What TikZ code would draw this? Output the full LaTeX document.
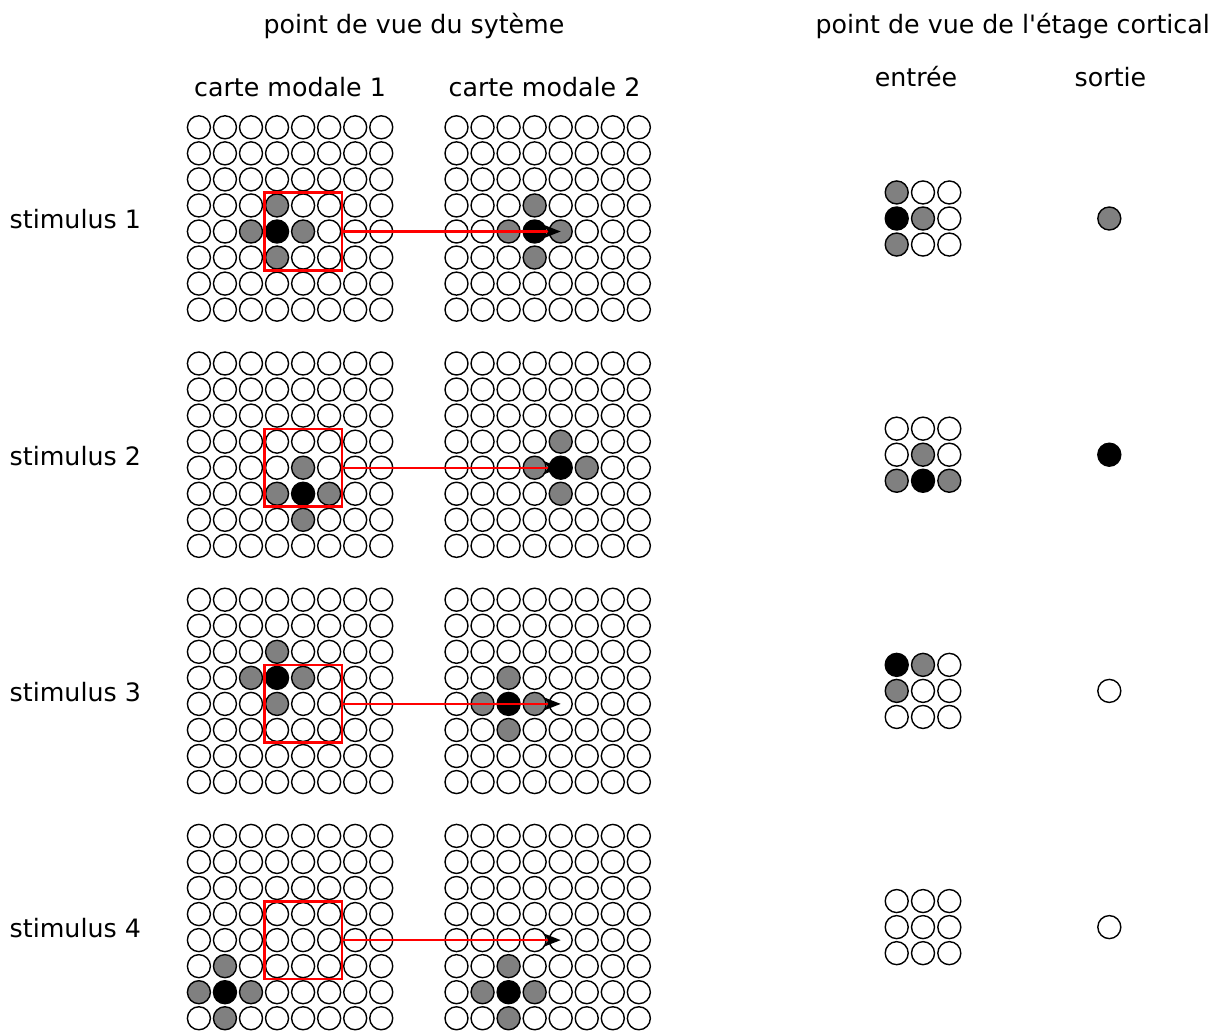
\documentclass[tikz,border=0pt]{standalone}
\usepackage{fontspec}
\newfontfamily\lblfont{DejaVu Sans}
\usetikzlibrary{arrows.meta}

\begin{document}
\begin{tikzpicture}[
            x=1pt, y=-1pt,
            lbl/.style={font={\lblfont\fontsize{25.3pt}{30pt}\selectfont}, inner sep=0pt},
            cell/.style={circle, draw, fill=white, line width=1.4pt,
                minimum size=23pt, inner sep=0pt},
            lvl0/.style={fill=black},
            lvl1/.style={fill=gray},
            lvl2/.style={fill=white},
            window/.style={draw=red, line width=2.6pt, minimum size=77.5pt, inner sep=0pt},
            link/.style={draw=red, line width=2.4pt,
                -{Stealth[color=black, length=18pt, width=14pt]}},
        ]
            \useasboundingbox (0, 0) rectangle (1230, 1030);

            %% headings
            \node[lbl, anchor=base] (sysview) at (414, 34) {point de vue du sytème};
            \node[lbl, anchor=base] (cortview) at (1012.7, 34) {point de vue de l'étage cortical};
            \node[lbl, anchor=base] (map1) at (290, 96) {carte modale 1};
            \node[lbl, anchor=base] (map2) at (544.5, 96) {carte modale 2};
            \node[lbl, anchor=base] (inlbl) at (916, 87) {entrée};
            \node[lbl, anchor=base] (outlbl) at (1110.5, 87) {sortie};

            %% one row per stimulus: centre of the lit cross in map a and map b
            \foreach \s/\ar/\ac/\br/\bc in {1/4/3/4/3, 2/5/4/4/4, 3/3/3/4/2, 4/6/1/6/2}{
                \pgfmathsetmacro{\ytop}{127.3+236.2*(\s-1)}
                \pgfmathsetmacro{\ymid}{\ytop+91.2}
                \node[lbl, anchor=base west] (stim\s) at (9.5, {\ymid+10.4}) {stimulus \s};
                \foreach \r in {0,...,7}{
                    \foreach \c in {0,...,7}{
                        \pgfmathtruncatemacro{\da}{min(abs(\r-\ar)+abs(\c-\ac), 2)}
                        \pgfmathtruncatemacro{\db}{min(abs(\r-\br)+abs(\c-\bc), 2)}
                        \node[cell, lvl\da] (a\s-\r-\c) at ({198.9+26.05*\c}, {\ytop+26.05*\r}) {};
                        \node[cell, lvl\db] (b\s-\r-\c) at ({456.5+26.05*\c}, {\ytop+26.05*\r}) {};
                    }
                }
                %% what the cortical stage sees through the window
                \foreach \r in {0,1,2}{
                    \foreach \c in {0,1,2}{
                        \pgfmathtruncatemacro{\de}{min(abs(\r+3-\ar)+abs(\c+3-\ac), 2)}
                        \node[cell, lvl\de] (e\s-\r-\c) at ({896.7+26.3*\c}, {\ymid+26.05*(\r-1)}) {};
                    }
                }
                \pgfmathtruncatemacro{\dout}{min(abs(4-\br)+abs(4-\bc), 2)}
                \node[cell, lvl\dout] (out\s) at (1109.3, \ymid) {};

                \node[window] (win\s) at (a\s-4-4) {};
                \draw[link] (win\s.east) -- (b\s-4-4.center);
            }
        \end{tikzpicture}
\end{document}
